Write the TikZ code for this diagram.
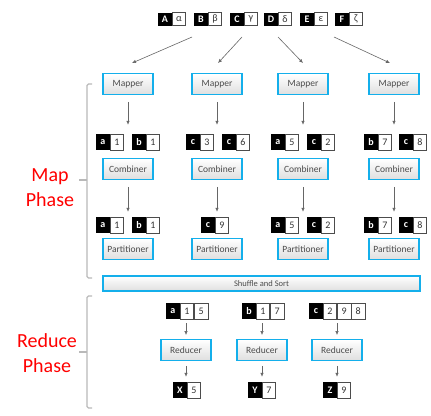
\documentclass[tikz,border=0pt]{standalone}
\usepackage{fontspec}
\setmainfont{Carlito}
\usetikzlibrary{arrows.meta, positioning}
\definecolor{boxblue}{RGB}{20,175,235}
\definecolor{phasered}{RGB}{255,0,0}
\tikzset{
  proc/.style = {draw=boxblue, line width=1.4pt, top color=white, bottom color=gray!25, minimum width=50pt, minimum height=20.5pt, inner sep=1pt, font=\fontsize{9.5}{10}\selectfont, text=black!70},
  kcell/.style = {fill=black, text=white, anchor=west, minimum width=13.5pt, minimum height=16pt, inner sep=0pt, font=\fontsize{10}{10}\selectfont\bfseries},
  vcell/.style = {draw=black!70, line width=0.6pt, fill=white, text=black!80, minimum width=13.5pt, minimum height=16pt, inner sep=0pt, font=\fontsize{10}{10}\selectfont},
  flow/.style = {draw=black!60, line width=0.6pt, -{Latex[length=4pt, width=3.5pt]}},
  phasebrace/.style = {draw=gray!55, line width=1.3pt, rounded corners=1.5pt},
  phase/.style = {text=phasered, align=center, font=\fontsize{20}{25}\selectfont}
}
\newcommand{\kvpair}[6][]{%
  \node[kcell,#1] (#2) at (#3,#4) {#5};
  \node[vcell,#1,right=0pt of #2] (#2v) {#6};}

\begin{document}
\begin{tikzpicture}[x=1pt, y=-1pt]
\useasboundingbox (0,0) rectangle (431,415);
\kvpair[minimum height=13pt]{inA}{158}{19}{A}{α}
\kvpair[minimum height=13pt]{inB}{194}{19}{B}{β}
\kvpair[minimum height=13pt]{inC}{230}{19}{C}{γ}
\kvpair[minimum height=13pt]{inD}{264}{19}{D}{δ}
\kvpair[minimum height=13pt]{inE}{300}{19}{E}{ε}
\kvpair[minimum height=13pt]{inF}{335}{19}{F}{ζ}
\foreach \i/\x in {1/128,2/217,3/303,4/394}{
  \node[proc] (map\i) at (\x,84) {Mapper};
  \node[proc] (comb\i) at (\x,169) {Combiner};
  \node[proc] (part\i) at (\x,249) {Partitioner};
}
\coordinate (s1) at (192,37);
\coordinate (s2) at (242,37);
\coordinate (s3) at (278,37);
\coordinate (s4) at (334,37);
\draw[flow] (s1) -- ([xshift=4pt, yshift=10pt]map1.north);
\draw[flow] (s2) -- ([xshift=1pt, yshift=10pt]map2.north);
\draw[flow] (s3) -- ([yshift=10pt]map3.north);
\draw[flow] (s4) -- ([xshift=-4pt, yshift=10pt]map4.north);
\kvpair{mapout1}{96}{142}{a}{1}
\kvpair{mapoutb1}{132}{142}{b}{1}
\kvpair{mapout2}{186}{142}{c}{3}
\kvpair{mapoutb2}{222}{142}{c}{6}
\kvpair{mapout3}{271}{142}{a}{5}
\kvpair{mapoutb3}{307}{142}{c}{2}
\kvpair{mapout4}{364}{142}{b}{7}
\kvpair{mapoutb4}{399}{142}{c}{8}
\kvpair{partin1}{96}{225}{a}{1}
\kvpair{partinb1}{132}{225}{b}{1}
\kvpair{partin2}{201}{225}{c}{9}
\kvpair{partin3}{271}{225}{a}{5}
\kvpair{partinb3}{307}{225}{c}{2}
\kvpair{partin4}{364}{225}{b}{7}
\kvpair{partinb4}{399}{225}{c}{8}
\foreach \i in {1,...,4}{
  \draw[flow, shorten <=7pt, shorten >=9pt] (map\i.south) -- (map\i.south |- mapout\i.north);
  \draw[flow, shorten <=7pt, shorten >=5pt] (comb\i.south) -- (comb\i.south |- partin\i.north);
}
\node[proc, minimum width=317pt, minimum height=15pt, font=\fontsize{8.5}{9}\selectfont] (shuffle) at (261.5,283.5) {Shuffle and Sort};
\node[kcell] (redin1) at (166,311) {a};
\node[vcell, right=0pt of redin1] (redin1v) {1};
\node[vcell, right=0pt of redin1v] (redin1w) {5};
\node[kcell] (redin2) at (242,311) {b};
\node[vcell, right=0pt of redin2] (redin2v) {1};
\node[vcell, right=0pt of redin2v] (redin2w) {7};
\node[kcell] (redin3) at (309,311) {c};
\node[vcell, right=0pt of redin3] (redin3v) {2};
\node[vcell, right=0pt of redin3v] (redin3w) {9};
\node[vcell, right=0pt of redin3w] (redin3x) {8};
\foreach \i/\x in {1/186,2/262,3/337}
  \node[proc] (red\i) at (\x,350) {Reducer};
\kvpair{out1}{173}{390}{X}{5}
\kvpair{out2}{248}{390}{Y}{7}
\kvpair{out3}{323}{390}{Z}{9}
\foreach \i in {1,2,3}{
  \draw[flow, shorten <=4pt, shorten >=4pt] (red\i.north |- redin\i.south) -- (red\i.north);
  \draw[flow, shorten <=5pt, shorten >=5pt] (red\i.south) -- (red\i.south |- out\i.north);
}
\draw[phasebrace] (92,84) -| (87,278) -- (92,278);
\draw[phasebrace] (87,180) -- (79,180);
\draw[phasebrace] (92,296) -| (87,408) -- (92,408);
\draw[phasebrace] (87,352) -- (79,352);
\node[phase] (mapphase) at (50,188) {Map\\Phase};
\node[phase] (redphase) at (47,353) {Reduce\\Phase};
\end{tikzpicture}
\end{document}
